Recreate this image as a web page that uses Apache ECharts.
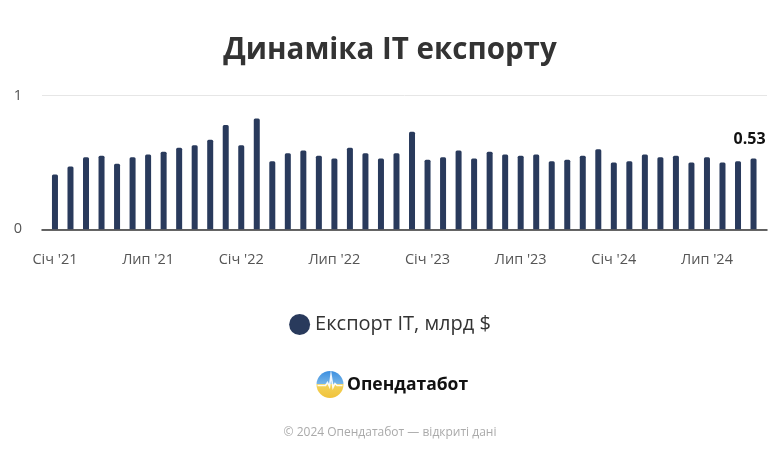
<!DOCTYPE html>
<html>
<head>
<meta charset="utf-8">
<script src="https://cdn.jsdelivr.net/npm/echarts@6/dist/echarts.min.js"></script>
<style>
html,body{margin:0;padding:0;background:#fff;}
#chart{width:780px;height:455px;}
</style>
</head>
<body>
<div id="chart"></div>
<script>
const months = ['Січ','Лют','Бер','Кві','Тра','Чер','Лип','Сер','Вер','Жов','Лис','Гру'];
const years = ["'21","'22","'23","'24"];
const categories = [];
for (let y = 0; y < years.length; y++) {
  for (let m = 0; m < 12; m++) {
    if (categories.length < 46) categories.push(months[m] + ' ' + years[y]);
  }
}
const exportIT = [
  0.41, 0.47, 0.54, 0.55, 0.49, 0.54, 0.56, 0.58, 0.61, 0.63, 0.67, 0.78,
  0.63, 0.83, 0.51, 0.57, 0.59, 0.55, 0.53, 0.61, 0.57, 0.53, 0.57,
  0.73, 0.52, 0.54, 0.59, 0.53, 0.58, 0.56, 0.55, 0.56, 0.51, 0.52, 0.55, 0.60,
  0.50, 0.51, 0.56, 0.54, 0.55, 0.50, 0.54, 0.50, 0.51, 0.53
];
const yTicks = [0, 1];
const seriesName = 'Експорт IT, млрд $';
const titleText = 'Динаміка IT експорту';
const footerText = '© 2024 Опендатабот — відкриті дані';
const brandText = 'Опендатабот';

const FONT = '"Open Sans", "Noto Sans", sans-serif';
const BAR = '#293a5c';

const data = exportIT.map((v, i) => i === exportIT.length - 1 ? {
  value: v,
  label: { show: true, position: 'top', distance: 11, offset: [-4, 0], formatter: p => p.value.toFixed(2),
    fontSize: 16, fontWeight: 'bold', color: '#111', fontFamily: FONT }
} : v);

const chart = echarts.init(document.getElementById('chart'), null, {renderer: 'canvas'});
chart.setOption({
  animation: false,
  backgroundColor: '#fff',
  title: {
    text: titleText, left: 'center', top: 31,
    textStyle: { fontSize: 29.5, fontWeight: 'bold', color: '#333', fontFamily: FONT }
  },
  legend: {
    data: [seriesName], top: 309, left: 'center', icon: 'circle',
    itemWidth: 21, itemHeight: 21, itemGap: 6,
    textStyle: { fontSize: 20, color: '#333', fontFamily: FONT }
  },
  grid: [
    { left: 42, right: 13, top: 95.7, bottom: 225.7 },
    { left: 47.2, right: 18.7, top: 95.7, bottom: 225.7 }
  ],
  xAxis: [
    { type: 'category', gridIndex: 0, data: [''],
      axisLine: { show: true, lineStyle: { color: '#333', width: 1.5 } },
      axisTick: { show: false }, axisLabel: { show: false } },
    { type: 'category', gridIndex: 1, data: categories,
      axisLine: { show: false }, axisTick: { show: false },
      axisLabel: { interval: 5, margin: 23, fontSize: 14.5, color: '#555', fontFamily: FONT } }
  ],
  yAxis: [
    { type: 'value', gridIndex: 0, min: yTicks[0], max: yTicks[1], interval: 1,
      axisLabel: { margin: 20, fontSize: 14.5, color: '#555', fontFamily: FONT },
      splitLine: { lineStyle: { color: '#e6e6e6' } },
      axisLine: { show: false }, axisTick: { show: false } },
    { type: 'value', gridIndex: 1, min: yTicks[0], max: yTicks[1], show: false,
      splitLine: { show: false } }
  ],
  series: [{
    name: seriesName, type: 'bar', xAxisIndex: 1, yAxisIndex: 1,
    data: data, barWidth: 6, itemStyle: { color: BAR, borderRadius: [1.5, 1.5, 0, 0] }
  }],
  graphic: [
    { type: 'group', left: 315, top: 371, children: [
      { type: 'circle', shape: { cx: 13.5, cy: 13.5, r: 13.5 },
        style: { fill: new echarts.graphic.LinearGradient(0, 0, 0, 1, [
          { offset: 0, color: '#3a8ee0' }, { offset: 0.5, color: '#7ab7e8' },
          { offset: 0.5, color: '#f3d35a' }, { offset: 1, color: '#f0c23a' }]) } },
      { type: 'polyline', shape: { points: [[1,14.5],[9,14.5],[11,11.5],[13,15.5],[14.5,4],[16.5,16.5],[18.5,12.5],[20.5,14.5],[26,14.5]] },
        style: { stroke: '#fff', lineWidth: 1.6, fill: null, opacity: 0.9 } }
    ]},
    { type: 'text', left: 347, top: 376,
      style: { text: brandText, font: 'bold 17.5px ' + FONT, fill: '#111' } },
    { type: 'text', left: 'center', top: 427,
      style: { text: footerText, font: '12px ' + FONT, fill: '#aaa' } }
  ]
});
</script>
</body>
</html>
